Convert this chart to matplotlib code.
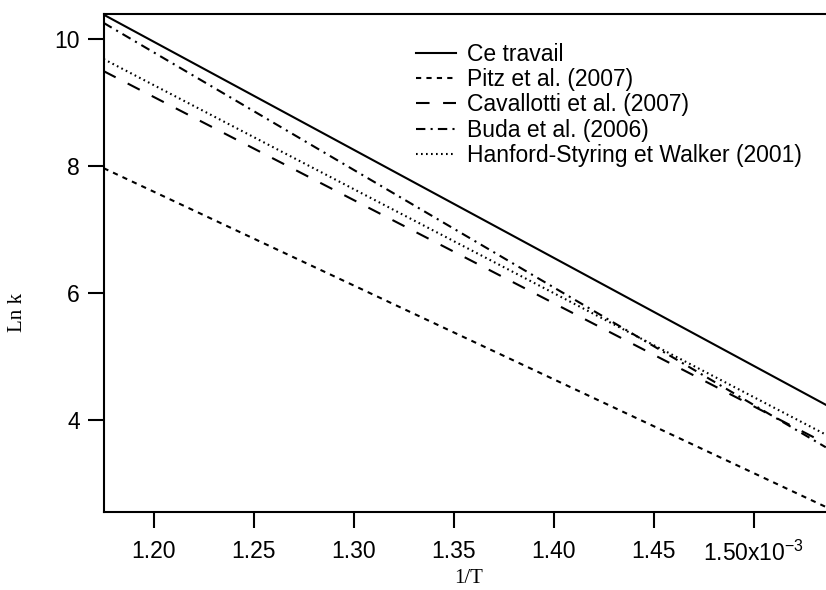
import matplotlib
matplotlib.use("Agg")
import matplotlib.pyplot as plt

# 1/T values (units of 1e-3 K^-1) at the two ends of each line
x_ends = [1.175, 1.536]
series_names = ["Ce travail", "Pitz et al. (2007)", "Cavallotti et al. (2007)",
                "Buda et al. (2006)", "Hanford-Styring et Walker (2001)"]
ce_travail = [10.39, 4.24]
pitz = [7.97, 2.63]
cavallotti = [9.50, 3.63]
buda = [10.26, 3.57]
hanford = [9.69, 3.77]

xticks = [1.20, 1.25, 1.30, 1.35, 1.40, 1.45, 1.50]
xtick_labels = ["1.20", "1.25", "1.30", "1.35", "1.40", "1.45", "1.50x10$^{-3}$"]
yticks = [4, 6, 8, 10]

plt.rcParams['font.family'] = ['Liberation Sans', 'DejaVu Sans']
plt.rcParams['mathtext.fontset'] = 'custom'
plt.rcParams['mathtext.rm'] = 'Liberation Sans'

fig = plt.figure(figsize=(8.26, 5.90), dpi=100)
ax = fig.add_axes([104/826, 1 - 512/590, (826 - 104)/826, (512 - 14)/590])

lw = 1.5
ax.plot(x_ends, ce_travail, color='black', lw=lw, linestyle='-', label=series_names[0])
ax.plot(x_ends, pitz, color='black', lw=lw, linestyle=(0, (2.5, 2.5)), label=series_names[1])
ax.plot(x_ends, cavallotti, color='black', lw=lw, linestyle=(0, (6.5, 6.5)), label=series_names[2])
ax.plot(x_ends, buda, color='black', lw=lw, linestyle=(0, (4.5, 2.5, 1, 2.5)), label=series_names[3])
ax.plot(x_ends, hanford, color='black', lw=lw, linestyle=(0, (0.8, 1.6)), label=series_names[4])

ax.set_xlim(1.1752, 1.5361)
ax.set_ylim(2.55, 10.40)
ax.set_xticks(xticks)
ax.set_xticklabels(xtick_labels)
ax.set_yticks(yticks)
ax.tick_params(axis='both', direction='out', length=11.5, width=1.5, labelsize=16.5)
ax.tick_params(axis='x', pad=9)
ax.tick_params(axis='y', pad=6)

for s in ['left', 'bottom', 'top']:
    ax.spines[s].set_linewidth(1.5)
ax.spines['right'].set_visible(False)

ax.set_xlabel("1/T", family=['Liberation Serif'], fontsize=15)
ax.set_ylabel("Ln k", family=['Liberation Serif'], fontsize=15)
ax.xaxis.set_label_coords(0.5055, -0.134)
ax.yaxis.set_label_coords(-0.12, 0.40)
ax.xaxis.label.set_va('center')
ax.yaxis.label.set_va('center')

leg = ax.legend(loc='upper left', bbox_to_anchor=(0.432, 0.942), frameon=False,
                fontsize=16.5, handlelength=1.75, handletextpad=0.48, labelspacing=0.1,
                borderaxespad=0, borderpad=0)

fig.savefig("out.png", dpi=100)
